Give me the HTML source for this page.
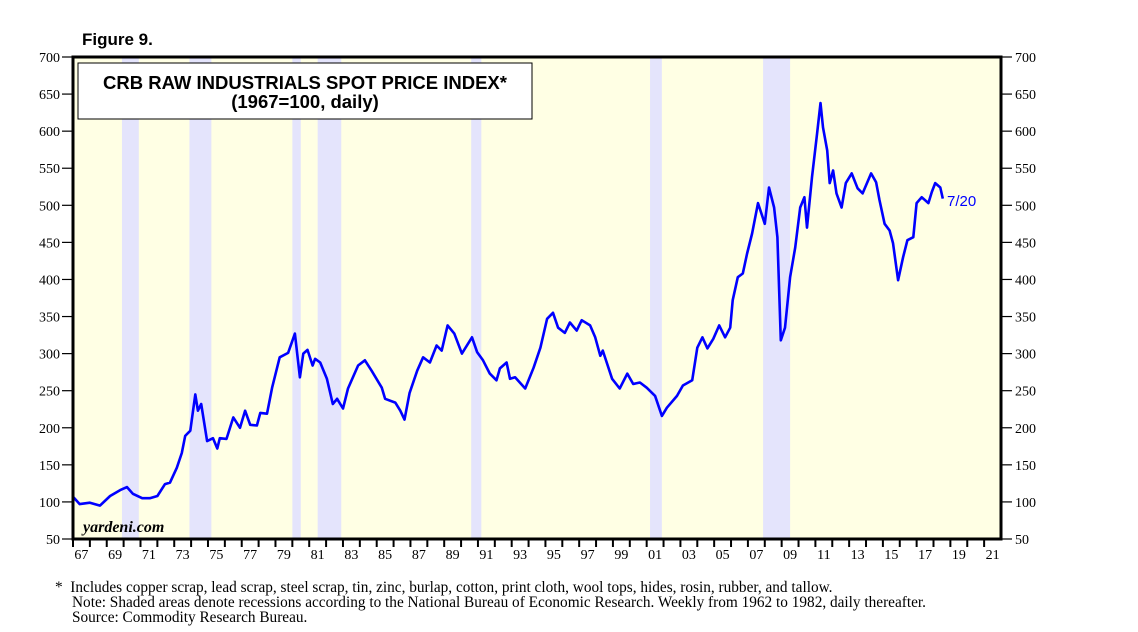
<!DOCTYPE html>
<html><head><meta charset="utf-8">
<style>
html,body{margin:0;padding:0;background:#fff;}
svg{display:block;}
text{font-family:"Liberation Serif",serif;}
text.sans{font-family:"Liberation Sans",sans-serif;}
</style></head>
<body>
<svg id="chart" width="1138" height="632" viewBox="0 0 1138 632" xmlns="http://www.w3.org/2000/svg">
<text class="sans" x="82" y="45" font-size="17" font-weight="bold">Figure 9.</text>
<rect x="73" y="57" width="928" height="482" fill="#ffffe4"/>
<g id="recessions"></g>
<g id="line"></g>
<rect x="73" y="57" width="928" height="482" fill="none" stroke="#000" stroke-width="3"/>
<rect x="78" y="63" width="454" height="56" fill="#fff" stroke="#000" stroke-width="1"/>
<text class="sans" x="305" y="89" text-anchor="middle" font-size="18.5" font-weight="bold">CRB RAW INDUSTRIALS SPOT PRICE INDEX*</text>
<text class="sans" x="305" y="108" text-anchor="middle" font-size="18.5" font-weight="bold">(1967=100, daily)</text>
<text x="83" y="532" font-size="16" font-style="italic" font-weight="bold">yardeni.com</text>
<g id="axes"></g>
<text class="sans" x="947" y="206" font-size="15" fill="#0000ff">7/20</text>
<text x="55" y="592" font-size="15.3">*&#160;&#160;Includes copper scrap, lead scrap, steel scrap, tin, zinc, burlap, cotton, print cloth, wool tops, hides, rosin, rubber, and tallow.</text>
<text x="72" y="607" font-size="15.3">Note: Shaded areas denote recessions according to the National Bureau of Economic Research. Weekly from 1962 to 1982, daily thereafter.</text>
<text x="72" y="622" font-size="15.3">Source: Commodity Research Bureau.</text>
</svg>
<script>
const years=[1967.0,1967.4,1968.0,1968.6,1969.2,1969.8,1970.2,1970.55,1971.1,1971.55,1972.0,1972.45,1972.75,1973.15,1973.45,1973.65,1973.95,1974.25,1974.4,1974.6,1974.95,1975.3,1975.55,1975.7,1976.1,1976.5,1976.9,1977.2,1977.5,1977.9,1978.1,1978.5,1978.8,1979.25,1979.75,1980.15,1980.45,1980.65,1980.9,1981.2,1981.35,1981.65,1982.05,1982.4,1982.65,1983.0,1983.3,1983.9,1984.3,1984.7,1985.3,1985.5,1986.1,1986.4,1986.65,1986.95,1987.4,1987.75,1988.15,1988.55,1988.85,1989.2,1989.6,1990.05,1990.65,1990.95,1991.3,1991.7,1992.1,1992.3,1992.7,1992.9,1993.2,1993.8,1994.3,1994.7,1995.1,1995.45,1995.75,1996.15,1996.45,1996.85,1997.15,1997.65,1997.95,1998.25,1998.4,1998.95,1999.4,1999.85,2000.2,2000.6,2001.0,2001.5,2001.9,2002.2,2002.8,2003.15,2003.7,2004.0,2004.3,2004.6,2004.95,2005.3,2005.65,2005.95,2006.1,2006.4,2006.7,2006.95,2007.25,2007.6,2008.0,2008.25,2008.55,2008.75,2008.95,2009.2,2009.5,2009.8,2010.1,2010.35,2010.5,2010.8,2011.1,2011.3,2011.45,2011.7,2011.85,2012.05,2012.25,2012.55,2012.8,2013.15,2013.5,2013.8,2014.3,2014.6,2014.8,2015.1,2015.4,2015.6,2015.9,2016.2,2016.45,2016.8,2017.0,2017.3,2017.7,2017.9,2018.1,2018.4,2018.55];
const values=[107,97,99,95,108,116,120,111,105,105,108,124,126,146,166,189,196,245,223,232,182,186,172,186,185,214,200,223,204,203,220,219,254,295,301,327,268,300,305,284,293,288,266,232,239,226,253,284,291,277,254,239,234,223,211,247,277,295,288,311,304,338,327,300,322,302,291,273,264,280,288,266,268,253,281,308,347,355,335,328,342,331,345,338,322,297,304,266,253,273,259,261,254,243,216,227,243,257,264,308,322,307,320,338,322,335,372,403,408,435,462,503,475,524,497,457,318,335,403,443,497,511,470,538,597,638,605,574,530,547,516,497,530,543,523,516,543,531,507,475,466,449,399,430,453,457,503,511,503,518,530,524,509];
const recStart=[1969.9,1973.9,1980.0,1981.5,1990.6,2001.2,2007.9];
const recEnd=[1970.9,1975.2,1980.5,1982.9,1991.2,2001.9,2009.5];
const yTicks=[50,100,150,200,250,300,350,400,450,500,550,600,650,700];
const xLabels=['67','69','71','73','75','77','79','81','83','85','87','89','91','93','95','97','99','01','03','05','07','09','11','13','15','17','19','21'];

const NS='http://www.w3.org/2000/svg';
const X0=73,X1=1001,Y0=57,Y1=539,T0=1967,T1=2022,V0=50,V1=700;
const xs=t=>X0+(t-T0)/(T1-T0)*(X1-X0);
const ys=v=>Y1-(v-V0)/(V1-V0)*(Y1-Y0);
function mk(tag,attrs,parent){const e=document.createElementNS(NS,tag);for(const k in attrs)e.setAttribute(k,attrs[k]);parent.appendChild(e);return e;}

const rg=document.getElementById('recessions');
recStart.forEach((s,i)=>{
  const r=mk('rect',{x:xs(s),y:Y0,width:xs(recEnd[i])-xs(s),height:Y1-Y0,fill:'#e4e4fc'},rg);
  
  
});

const lg=document.getElementById('line');
const d=years.map((t,i)=>(i?'L':'M')+xs(t).toFixed(1)+','+ys(values[i]).toFixed(1)).join(' ');
const p=mk('path',{d:d,fill:'none',stroke:'#0000ff','stroke-width':2.6,'stroke-linejoin':'round'},lg);



const ag=document.getElementById('axes');
yTicks.forEach(v=>{
  const y=ys(v);
  mk('line',{x1:62,x2:X0,y1:y,y2:y,stroke:'#000','stroke-width':1.2},ag);
  mk('line',{x1:X1,x2:1012,y1:y,y2:y,stroke:'#000','stroke-width':1.2},ag);
  const tl=mk('text',{x:60,y:y+5,'text-anchor':'end','font-size':14},ag);
  tl.textContent=v;
  
  
  const tr=mk('text',{x:1015,y:y+5,'font-size':14},ag);
  tr.textContent=v;
  
  
});
for(let t=T0;t<=2021;t++){
  const x=xs(t);
  mk('line',{x1:x,x2:x,y1:Y1,y2:Y1+8,stroke:'#000','stroke-width':2},ag);
}
xLabels.forEach((lab,i)=>{
  const t=T0+2*i+0.5;
  const tx=mk('text',{x:xs(t),y:Y1+20,'text-anchor':'middle','font-size':14},ag);
  tx.textContent=lab;
  
  
});
</script>
</body></html>
